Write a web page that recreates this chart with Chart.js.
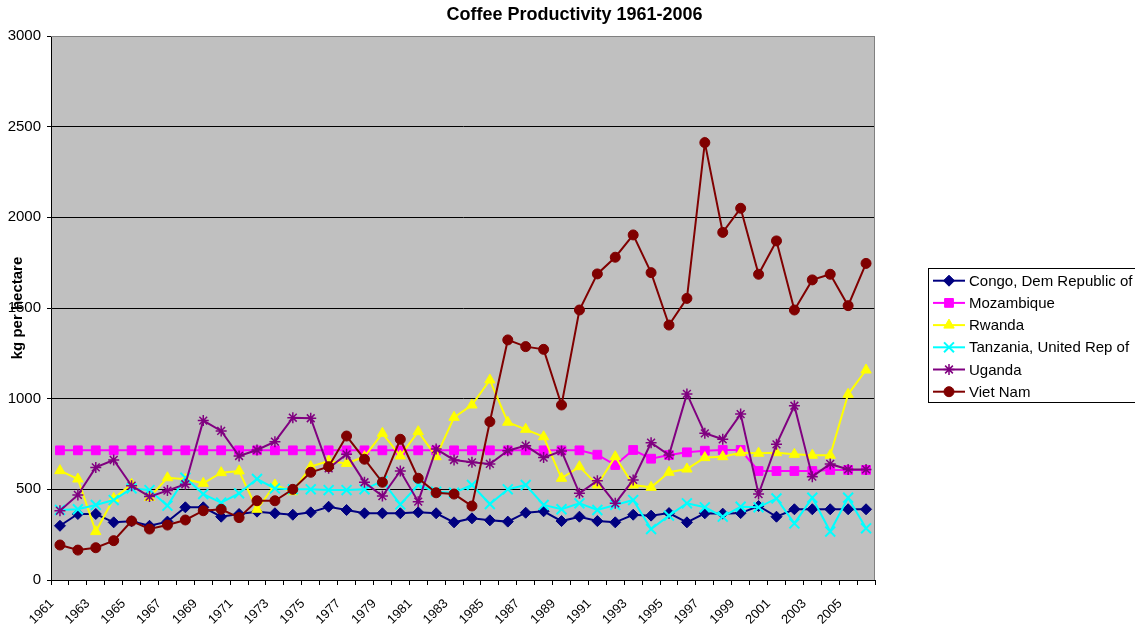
<!DOCTYPE html>
<html>
<head>
<meta charset="utf-8">
<script src="https://cdn.jsdelivr.net/npm/chart.js@4.4.1/dist/chart.umd.min.js"></script>
<style>
html,body{margin:0;padding:0;background:#fff;overflow:hidden}
#wrap{width:1135px;height:630px;position:relative}
</style>
</head>
<body>
<div id="wrap"><canvas id="c" width="1135" height="630"></canvas></div>
<script>
// ---- data ----
const years = ['1961','1962','1963','1964','1965','1966','1967','1968','1969','1970',
  '1971','1972','1973','1974','1975','1976','1977','1978','1979','1980',
  '1981','1982','1983','1984','1985','1986','1987','1988','1989','1990',
  '1991','1992','1993','1994','1995','1996','1997','1998','1999','2000',
  '2001','2002','2003','2004','2005','2006'];
const xTickLabels = ['1961','1963','1965','1967','1969','1971','1973','1975','1977','1979',
  '1981','1983','1985','1987','1989','1991','1993','1995','1997','1999','2001','2003','2005'];
const yTicks = [0, 500, 1000, 1500, 2000, 2500, 3000];
const seriesNames = ['Congo, Dem Republic of','Mozambique','Rwanda','Tanzania, United Rep of','Uganda','Viet Nam'];

const congo = [299,364,364,318,324,299,322,401,401,349,364,377,368,360,373,404,386,368,368,368,
  373,368,318,340,329,322,371,379,325,349,325,318,360,355,369,318,368,366,369,408,
  349,390,390,390,390,390];
const mozambique = [715,715,715,715,715,715,715,715,715,715,715,715,715,715,715,715,715,715,715,715,
  715,715,715,715,715,715,715,715,715,715,691,634,717,669,689,704,713,717,717,601,
  601,601,601,607,607,607];
const rwanda = [603,557,267,450,528,455,564,555,533,592,601,390,524,487,625,656,643,680,809,684,
  818,680,897,965,1103,870,831,790,561,625,524,680,524,511,594,612,675,680,702,699,
  702,693,688,688,1024,1158];
const tanzania = [386,390,414,441,505,496,410,564,474,427,478,557,505,500,500,496,496,500,546,417,
  524,487,481,524,419,500,524,414,390,423,386,414,441,281,355,423,401,349,404,401,
  450,312,454,267,454,285];
const uganda = [382,469,621,662,520,460,493,528,879,822,684,717,763,895,892,616,693,539,463,601,
  432,722,662,649,640,713,741,675,711,478,548,423,552,757,689,1026,809,776,915,474,
  748,961,570,640,610,610];
const vietNam = [193,165,178,217,325,281,303,331,382,390,344,437,437,500,594,625,794,666,539,776,
  561,481,474,408,873,1324,1287,1272,965,1489,1688,1780,1903,1695,1406,1553,2412,1917,2050,1686,
  1870,1489,1655,1686,1513,1746];

const seriesValues = [congo, mozambique, rwanda, tanzania, uganda, vietNam];

// ---- styles ----
const styles = [
  {color:'#000080', point:'rectRot', radius:5.5, bw:1},
  {color:'#FF00FF', point:'rect', radius:6.2, bw:1},
  {color:'#FFFF00', point:'triangle', radius:6, bw:1},
  {color:'#00FFFF', point:'crossRot', radius:7, bw:2},
  {color:'#800080', point:'star', radius:5.5, bw:1.5},
  {color:'#800000', point:'circle', radius:5, bw:1}
];

const FONT = 'Arial, "Liberation Sans", sans-serif';

const datasets = seriesNames.map((name, i) => ({
  label: name,
  data: seriesValues[i],
  borderColor: styles[i].color,
  backgroundColor: styles[i].color,
  pointBackgroundColor: styles[i].color,
  pointBorderColor: styles[i].color,
  pointStyle: styles[i].point,
  pointRadius: styles[i].radius,
  pointBorderWidth: styles[i].bw,
  borderWidth: 2,
  tension: 0,
  fill: false,
  order: seriesNames.length - i,
  clip: 8
}));

const decor = {
  id: 'decor',
  beforeDraw(chart) {
    const ctx = chart.ctx, a = chart.chartArea;
    ctx.save();
    ctx.fillStyle = '#ffffff';
    ctx.fillRect(0, 0, chart.width, chart.height);
    ctx.fillStyle = '#C0C0C0';
    ctx.fillRect(a.left, a.top, a.right - a.left, a.bottom - a.top);
    ctx.restore();
  },
  afterDraw(chart) {
    const ctx = chart.ctx, a = chart.chartArea;
    ctx.save();
    // plot border top/right
    ctx.strokeStyle = '#808080';
    ctx.lineWidth = 1;
    ctx.beginPath();
    ctx.moveTo(a.left, a.top + 0.5);
    ctx.lineTo(Math.round(a.right) - 0.5, a.top + 0.5);
    ctx.lineTo(Math.round(a.right) - 0.5, a.bottom);
    ctx.stroke();
    // title
    ctx.fillStyle = '#000';
    ctx.font = 'bold 18px ' + FONT;
    ctx.textAlign = 'center';
    ctx.textBaseline = 'middle';
    ctx.fillText('Coffee Productivity 1961-2006', 574.5, 15);
    // y axis title
    ctx.save();
    ctx.translate(18, (a.top + a.bottom) / 2);
    ctx.rotate(-Math.PI / 2);
    ctx.font = 'bold 15px ' + FONT;
    ctx.fillText('kg per hectare', 0, 0);
    ctx.restore();
    // legend
    const lx = 928.5, ly = 268.5, lw = 230, lh = 134;
    ctx.fillStyle = '#ffffff';
    ctx.fillRect(lx, ly, lw, lh);
    ctx.strokeStyle = '#000';
    ctx.lineWidth = 1;
    ctx.strokeRect(lx, ly, lw, lh);
    ctx.font = '15px ' + FONT;
    ctx.textAlign = 'left';
    ctx.textBaseline = 'middle';
    chart.data.datasets.forEach((ds, i) => {
      const y = 280.7 + i * 22.2;
      ctx.strokeStyle = ds.borderColor;
      ctx.lineWidth = 2;
      ctx.beginPath();
      ctx.moveTo(933, y);
      ctx.lineTo(965, y);
      ctx.stroke();
      ctx.fillStyle = ds.pointBackgroundColor;
      ctx.strokeStyle = ds.pointBorderColor;
      ctx.lineWidth = ds.pointBorderWidth;
      Chart.helpers.drawPoint(ctx, {pointStyle: ds.pointStyle, rotation: 0, radius: ds.pointRadius, borderWidth: ds.pointBorderWidth}, 949, y);
      ctx.fillStyle = '#000';
      ctx.fillText(ds.label, 969, y + 1);
    });
    ctx.restore();
  }
};

new Chart(document.getElementById('c'), {
  type: 'line',
  data: { labels: years, datasets },
  options: {
    responsive: false,
    animation: false,
    devicePixelRatio: 1,
    layout: { padding: { left: 0, right: 260, top: 36, bottom: 0 } },
    plugins: { legend: { display: false }, title: { display: false }, tooltip: { enabled: false } },
    scales: {
      x: {
        type: 'category',
        offset: true,
        afterFit(scale) { scale.height = 50; },
        grid: { offset: true, drawOnChartArea: false, drawTicks: true, tickLength: 5, color: '#000', tickColor: '#000', lineWidth: 1 },
        border: { display: true, color: '#000', width: 1 },
        ticks: {
          autoSkip: false,
          maxRotation: 45,
          minRotation: 45,
          padding: 11,
          labelOffset: -8,
          color: '#000',
          font: { family: FONT, size: 13 },
          callback(value, index) {
            const lab = years[index];
            return xTickLabels.includes(lab) ? lab : '';
          }
        }
      },
      y: {
        min: 0,
        max: 3000,
        afterFit(scale) { scale.width = 51; },
        afterBuildTicks(scale) { scale.ticks = yTicks.map(v => ({ value: v })); },
        grid: {
          drawTicks: true,
          tickLength: 4,
          color: ctx => (ctx.tick && ctx.tick.value === 3000) ? '#808080' : '#000',
          tickColor: '#000',
          lineWidth: 1
        },
        border: { display: true, color: '#000', width: 1 },
        ticks: {
          padding: 6,
          color: '#000',
          font: { family: FONT, size: 15 },
          callback: v => String(v)
        }
      }
    }
  },
  plugins: [decor]
});
</script>
</body>
</html>
